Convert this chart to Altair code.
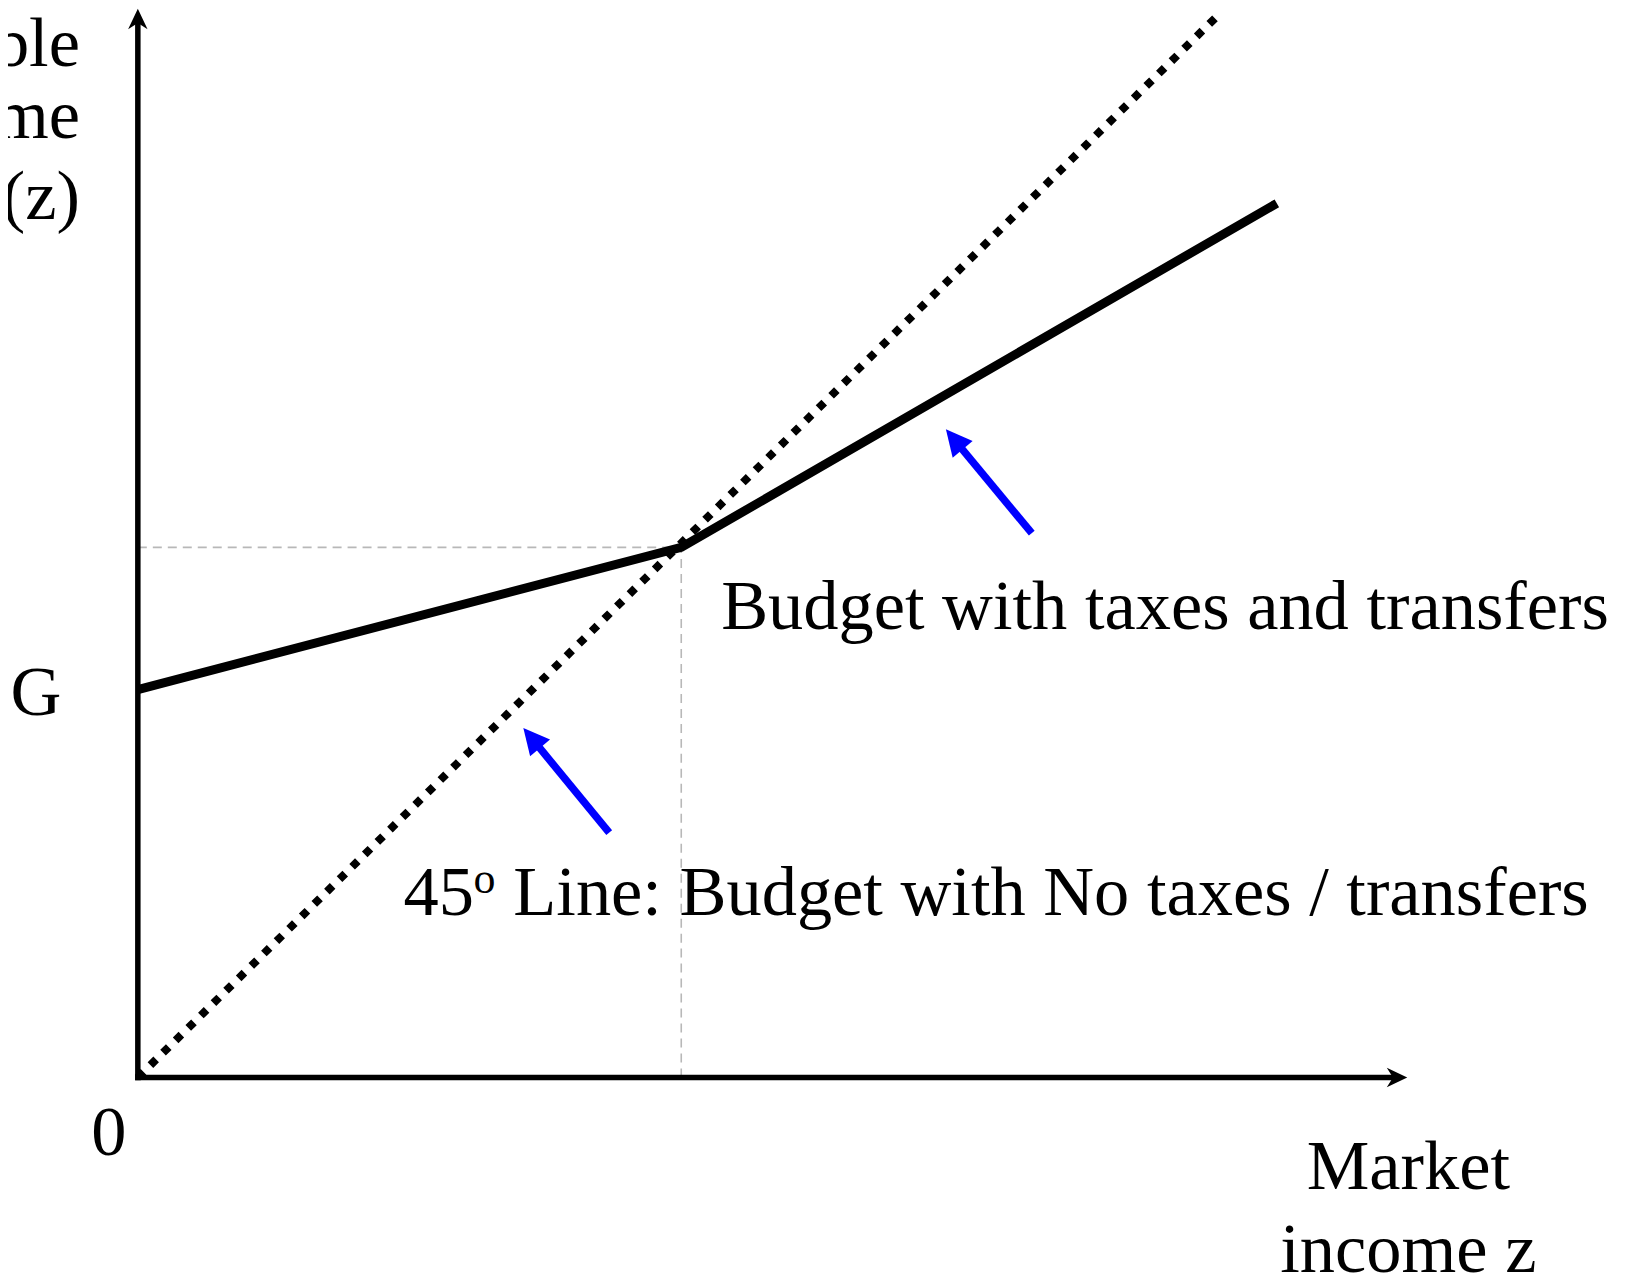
import altair as alt
import pandas as pd

# ---------------- data ----------------
# budget with taxes and transfers: starts at G, kink on the 45-degree line
budget_z = [0, 50, 104.8]
budget_c = [36.3, 49.6, 81.8]
# 45-degree line: no taxes / transfers
line45_z = [0, 99.4]
line45_c = [0, 99.4]
# kink (break-even point) guides
kink_z = 50
kink_c = 49.6
# axis extents (arrow tips)
X_MAX = 116.8
Y_MAX = 100.0

# blue annotation arrows: tail -> tip
arrow_tail_z = [82.25, 43.37]
arrow_tail_c = [50.93, 22.90]
arrow_base_z = [75.54, 36.67]
arrow_base_c = [59.16, 31.21]
arrow_tip_z = [74.35, 35.47]
arrow_tip_c = [60.65, 32.71]
arrow_angle = [320, 320]

# text labels (data coordinates)
ylab_text = ["Disposable", "income", "z \u2013 T(z)"]
ylab_z = [-5.33, -5.33, -5.33]
ylab_c = [94.67, 87.94, 80.37]

center_text = ["G", "0", "Market", "income z"]
center_z = [-9.37, -2.66, 116.9, 116.9]
center_c = [33.93, -7.29, -10.47, -18.22]

left_text = ["Budget with taxes and transfers", "45", "Line: Budget with No taxes / transfers"]
left_z = [53.67, 24.44, 34.55]
left_c = [41.96, 15.23, 15.23]

sup_text = ["o"]
sup_z = [30.88]
sup_c = [17.29]

FONT = "Liberation Serif"

xs = alt.Scale(domain=[0, X_MAX], nice=False, zero=False)
ys = alt.Scale(domain=[0, Y_MAX], nice=False, zero=False)


def X(f):
    return alt.X(f, type="quantitative", scale=xs, axis=None)


def Y(f):
    return alt.Y(f, type="quantitative", scale=ys, axis=None)


# guides
guides = pd.DataFrame({
    "x": [0, kink_z], "y": [kink_c, 0],
    "x2": [kink_z, kink_z], "y2": [kink_c, kink_c],
})
guide_layer = alt.Chart(guides).mark_rule(
    color="#b8b8b8", strokeWidth=1.6, strokeDash=[9, 6]
).encode(x=X("x"), y=Y("y"), x2="x2:Q", y2="y2:Q")

# axes shafts
axes = pd.DataFrame({
    "x": [0, 0], "y": [0, 0],
    "x2": [0, X_MAX - 1.1], "y2": [Y_MAX - 1.12, 0],
})
axes_layer = alt.Chart(axes).mark_rule(
    color="black", strokeWidth=5.5, strokeCap="square"
).encode(x=X("x"), y=Y("y"), x2="x2:Q", y2="y2:Q")

# axes arrow heads
heads = pd.DataFrame({"x": [0, X_MAX], "y": [Y_MAX, 0], "a": [0, 90]})
axis_head_layer = alt.Chart(heads).mark_point(
    shape="M0,0 L0.95,2 L0,1.4 L-0.95,2 Z", size=420, filled=True,
    color="black", opacity=1, strokeWidth=0
).encode(x=X("x"), y=Y("y"), angle=alt.Angle("a:Q", scale=None))

# 45-degree dotted line
l45 = pd.DataFrame({"z": line45_z, "c": line45_c})
l45_layer = alt.Chart(l45).mark_line(
    color="black", strokeWidth=8, strokeDash=[8, 9.7]
).encode(x=X("z"), y=Y("c"))

# budget line
bud = pd.DataFrame({"z": budget_z, "c": budget_c})
bud_layer = alt.Chart(bud).mark_line(
    color="black", strokeWidth=9, strokeJoin="miter"
).encode(x=X("z"), y=Y("c"))

# blue arrows
arr = pd.DataFrame({
    "x": arrow_tail_z, "y": arrow_tail_c,
    "x2": arrow_base_z, "y2": arrow_base_c,
})
arr_layer = alt.Chart(arr).mark_rule(color="#0000ff", strokeWidth=7.5).encode(
    x=X("x"), y=Y("y"), x2="x2:Q", y2="y2:Q"
)
arr_heads = pd.DataFrame({"x": arrow_tip_z, "y": arrow_tip_c, "a": arrow_angle})
arr_head_layer = alt.Chart(arr_heads).mark_point(
    shape="M0,0 L1,2 L-1,2 Z", size=680, filled=True,
    color="#0000ff", opacity=1, strokeWidth=0
).encode(x=X("x"), y=Y("y"), angle=alt.Angle("a:Q", scale=None))

# texts
def text_layer(texts, zs, cs, align, size):
    df = pd.DataFrame({"t": texts, "x": zs, "y": cs})
    return alt.Chart(df).mark_text(
        font=FONT, fontSize=size, color="black", align=align,
        baseline="alphabetic"
    ).encode(x=X("x"), y=Y("y"), text="t:N")


ylab_layer = text_layer(ylab_text, ylab_z, ylab_c, "right", 70.5)
center_layer = text_layer(center_text, center_z, center_c, "center", 70.5)
left_layer = text_layer(left_text, left_z, left_c, "left", 70.5)
sup_layer = text_layer(sup_text, sup_z, sup_c, "left", 44)

chart = alt.layer(
    guide_layer, l45_layer, bud_layer, axes_layer, axis_head_layer,
    arr_layer, arr_head_layer,
    ylab_layer, center_layer, left_layer, sup_layer,
).properties(
    width=1271, height=1070,
    padding={"left": 130, "top": 0, "right": 210, "bottom": 200},
    autosize=alt.AutoSizeParams(type="none"),
    background="white",
).configure_view(stroke=None)

chart.save("out.html", embed_options={"renderer": "svg", "actions": False})
